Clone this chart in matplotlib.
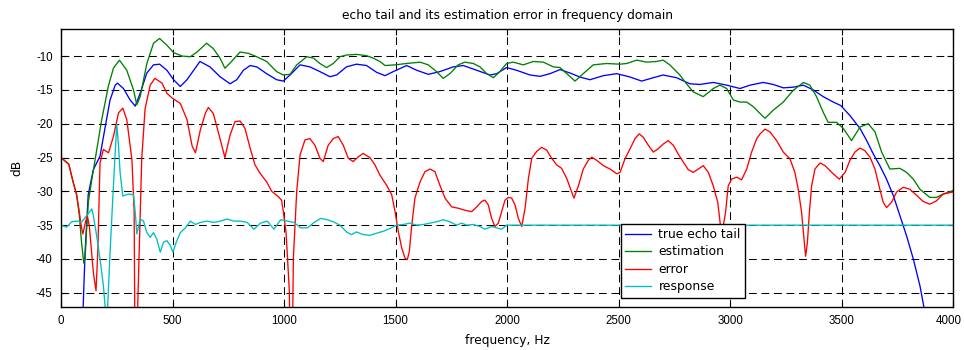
import matplotlib
matplotlib.use("Agg")
import matplotlib.pyplot as plt
import matplotlib.transforms as mtransforms

# ---------------- data ----------------
true_f = [92, 100, 108, 122, 145, 175, 197, 220, 243, 253, 280, 310, 333, 355, 385, 415, 442,
          475, 505, 535, 565, 623, 668, 713, 758, 788, 818, 848, 878, 922, 967, 997, 1027,
          1072, 1116, 1161, 1206, 1236, 1280, 1325, 1370, 1415, 1453, 1490, 1550, 1595, 1647,
          1699, 1759, 1804, 1864, 1924, 1954, 1998, 2043, 2103, 2148, 2193, 2238, 2282, 2327,
          2372, 2432, 2492, 2552, 2604, 2656, 2700, 2760, 2820, 2865, 2925, 2985, 3045, 3090,
          3149, 3194, 3239, 3284, 3329, 3373, 3418, 3463, 3496, 3538, 3583, 3613, 3643, 3672,
          3702, 3732, 3762, 3792, 3822, 3852, 3870, 3885]
true_db = [-55, -46.5, -39.0, -30.5, -26.8, -24.8, -20.7, -16.5, -14.3, -14.0, -14.8, -16.5, -17.4,
           -15.5, -12.5, -11.3, -11.2, -12.1, -13.5, -14.5, -13.5, -10.8, -11.6, -13.05, -14.1,
           -13.5, -12.1, -11.4, -11.6, -12.6, -13.5, -13.7, -12.8, -11.3, -11.6, -12.3, -13.05,
           -12.8, -11.6, -11.2, -11.4, -12.4, -12.9, -12.3, -11.4, -12.1, -12.7, -12.3, -11.6,
           -11.4, -12.1, -12.8, -12.6, -11.7, -12.1, -12.8, -13.0, -12.6, -12.0, -12.5, -13.1,
           -13.5, -12.9, -12.6, -13.1, -13.7, -13.2, -12.8, -13.2, -14.1, -14.2, -13.9, -14.3,
           -14.8, -14.3, -13.9, -14.2, -14.7, -14.6, -14.3, -15.0, -16.0, -16.8, -17.3, -18.8,
           -20.7, -22.5, -24.5, -26.2, -28.2, -30.6, -33.6, -36.6, -40.0, -44.0, -47.2, -52]

est_f = [0, 35, 55, 70, 82, 92, 102, 108, 115, 123, 137, 153, 167, 182, 197, 212, 235, 262, 295,
         325, 340, 355, 385, 415, 442, 475, 505, 543, 580, 610, 653, 683, 713, 735, 765, 803, 840,
         878, 922, 967, 997, 1027, 1057, 1102, 1132, 1161, 1191, 1221, 1251, 1280, 1325, 1370,
         1400, 1430, 1453, 1498, 1550, 1610, 1647, 1684, 1714, 1744, 1781, 1811, 1849, 1879, 1909,
         1939, 1968, 1998, 2028, 2073, 2118, 2163, 2208, 2238, 2268, 2305, 2342, 2387, 2447, 2507,
         2537, 2582, 2626, 2671, 2700, 2730, 2775, 2805, 2835, 2880, 2925, 2955, 2985, 3015, 3045,
         3075, 3105, 3135, 3157, 3194, 3239, 3284, 3329, 3358, 3388, 3418, 3440, 3478, 3508, 3545,
         3583, 3620, 3650, 3680, 3717, 3762, 3792, 3822, 3852, 3896, 3926, 3956, 4000]
est_db = [-25.0, -26.0, -28.7, -30.5, -33.5, -37.5, -40.6, -40.0, -35.5, -31.5, -28.5, -25.3, -22.5,
          -19.5, -17.0, -14.5, -11.8, -10.6, -12.1, -15.0, -17.2, -16.0, -11.1, -8.1, -7.4, -8.4,
          -9.5, -10.0, -10.1, -9.4, -8.1, -8.9, -10.3, -11.8, -10.8, -9.4, -9.6, -10.1, -10.8,
          -12.3, -12.8, -12.7, -11.3, -10.1, -10.3, -11.1, -11.7, -11.1, -10.1, -9.85, -9.75,
          -9.95, -10.3, -10.8, -11.4, -11.3, -11.1, -10.9, -11.3, -12.3, -13.3, -12.6, -11.3,
          -10.9, -11.1, -11.6, -12.6, -13.2, -12.3, -11.1, -10.9, -11.3, -10.8, -10.9, -11.6,
          -11.7, -12.6, -13.7, -12.6, -11.3, -11.1, -11.2, -11.1, -10.6, -10.9, -10.8, -10.6,
          -11.3, -12.8, -14.1, -15.3, -16.0, -14.8, -14.3, -14.8, -16.5, -16.8, -16.8, -17.5,
          -18.5, -19.2, -18.0, -16.8, -15.05, -13.9, -14.3, -16.0, -18.3, -19.8, -19.8, -20.7,
          -22.5, -20.5, -20.0, -21.2, -24.2, -26.7, -26.6, -27.2, -28.2, -29.7, -30.9, -30.9,
          -30.4, -29.9]

err_f = [0, 35, 55, 70, 82, 90, 98, 110, 118, 127, 145, 157, 165, 175, 190, 213, 235, 258, 277, 295,
         318, 328, 333, 340, 344, 354, 362, 377, 400, 421, 430, 453, 475, 498, 535, 565, 588, 603,
         625, 648, 661, 683, 705, 735, 758, 780, 803, 825, 848, 870, 892, 922, 945, 975, 989, 997,
         1009, 1015, 1024, 1029, 1035, 1042, 1057, 1072, 1094, 1116, 1139, 1161, 1176, 1198, 1221,
         1243, 1266, 1288, 1310, 1333, 1355, 1385, 1408, 1430, 1460, 1483, 1498, 1513, 1528, 1543,
         1553, 1562, 1573, 1587, 1610, 1632, 1655, 1677, 1699, 1722, 1752, 1782, 1812, 1842, 1864,
         1886, 1901, 1916, 1931, 1946, 1961, 1976, 1991, 2006, 2021, 2036, 2051, 2066, 2081, 2096,
         2111, 2133, 2155, 2178, 2200, 2223, 2245, 2268, 2300, 2320, 2342, 2365, 2380, 2402, 2432,
         2462, 2492, 2507, 2529, 2552, 2574, 2593, 2611, 2634, 2656, 2678, 2701, 2723, 2746, 2768,
         2791, 2813, 2835, 2858, 2880, 2903, 2925, 2945, 2958, 2968, 2980, 2992, 3007, 3030, 3052,
         3075, 3097, 3120, 3135, 3157, 3179, 3209, 3239, 3269, 3291, 3306, 3321, 3332, 3339, 3347,
         3356, 3366, 3381, 3404, 3426, 3456, 3490, 3516, 3538, 3560, 3583, 3605, 3628, 3650, 3672,
         3687, 3702, 3725, 3747, 3777, 3807, 3837, 3866, 3896, 3926, 3956, 4000]
err_db = [-25.0, -26.0, -28.7, -30.5, -33.0, -35.0, -36.3, -34.5, -33.6, -35.1, -42.0, -44.7, -39.0,
          -25.8, -23.8, -24.3, -21.9, -18.4, -17.7, -19.4, -25.3, -33.0, -60, -60, -47, -35.1,
          -25.2, -17.8, -14.3, -13.3, -13.5, -14.0, -15.5, -16.2, -17.0, -19.4, -23.3, -24.3,
          -20.9, -18.4, -17.6, -18.5, -21.2, -25.0, -21.7, -19.7, -19.6, -20.7, -23.6, -26.1,
          -27.3, -28.6, -30.0, -30.8, -31.3, -33.0, -36.0, -39.4, -44.8, -60, -60, -39.9, -30.0,
          -24.6, -22.4, -22.2, -23.2, -25.1, -25.6, -23.2, -22.2, -21.9, -23.2, -25.1, -25.6,
          -24.9, -24.4, -25.0, -26.1, -27.6, -29.1, -30.5, -33.0, -36.0, -38.4, -39.9, -40.1,
          -38.9, -35.0, -31.0, -28.6, -27.1, -26.7, -27.1, -29.1, -31.0, -32.3, -32.5, -32.8,
          -33.0, -32.3, -31.5, -31.3, -32.0, -34.0, -35.2, -34.7, -33.0, -31.3, -30.9, -31.0,
          -32.0, -34.0, -35.2, -32.5, -28.1, -25.1, -24.1, -23.5, -23.9, -25.1, -26.1, -26.6,
          -28.1, -31.0, -29.2, -26.7, -25.4, -24.95, -25.4, -26.2, -26.7, -27.4, -27.2, -25.2,
          -23.7, -22.2, -21.5, -22.0, -23.2, -24.2, -23.7, -23.0, -22.5, -23.2, -24.5, -25.7,
          -26.8, -27.2, -26.7, -26.2, -27.2, -29.2, -31.6, -35.3, -35.5, -33.1, -29.2, -28.2,
          -27.9, -28.3, -26.7, -24.2, -22.2, -21.5, -20.8, -21.2, -22.5, -24.2, -25.2, -27.2,
          -29.7, -33.1, -37.1, -39.6, -37.6, -33.1, -29.2, -26.7, -25.8, -26.2, -27.2, -28.2,
          -27.2, -25.4, -24.2, -23.6, -24.0, -24.95, -26.7, -29.7, -31.6, -32.4, -31.6, -30.1,
          -29.4, -29.7, -30.6, -31.5, -31.9, -31.4, -30.4, -30.1]

resp_f = [0, 25, 48, 70, 93, 115, 138, 145, 160, 175, 190, 200, 208, 220, 235, 250, 258, 265, 277,
          303, 325, 333, 340, 355, 370, 385, 400, 415, 430, 445, 460, 475, 490, 502, 517, 535, 558,
          580, 603, 625, 655, 685, 715, 745, 775, 805, 835, 865, 895, 925, 955, 985, 1015, 1045,
          1075, 1105, 1135, 1165, 1195, 1221, 1251, 1280, 1303, 1325, 1355, 1385, 1415, 1445, 1475,
          1505, 1535, 1565, 1595, 1625, 1655, 1684, 1714, 1744, 1774, 1797, 1819, 1849, 1879,
          1901, 1931, 1954, 1976, 1998, 4000]
resp_db = [-35.0, -35.3, -34.5, -34.4, -34.5, -33.6, -32.6, -33.6, -36.6, -40.0, -43.9, -48, -48,
           -39.0, -29.2, -20.1, -23.3, -27.2, -30.7, -30.4, -30.5, -33.1, -36.3, -34.1, -34.4,
           -36.1, -36.8, -36.1, -37.1, -39.0, -37.5, -37.3, -38.0, -39.0, -37.5, -36.1, -35.4,
           -34.4, -34.9, -34.6, -34.4, -34.6, -34.4, -34.1, -34.4, -34.4, -34.6, -35.6, -34.7,
           -34.4, -35.6, -34.2, -34.4, -34.6, -35.4, -35.4, -34.6, -34.0, -34.2, -34.5, -35.0,
           -36.0, -36.4, -36.0, -36.4, -36.5, -36.2, -35.9, -35.5, -35.0, -34.9, -34.7, -35.0,
           -34.9, -34.7, -34.5, -34.2, -34.5, -35.0, -34.7, -35.0, -34.9, -35.2, -35.6, -35.2,
           -35.4, -35.6, -35.0, -35.0]

labels = ["true echo tail", "estimation", "error", "response"]
x_ticks = [0, 500, 1000, 1500, 2000, 2500, 3000, 3500, 4000]
y_ticks = [-45, -40, -35, -30, -25, -20, -15, -10]

# ---------------- figure ----------------
plt.rcParams["font.family"] = ["Liberation Sans", "DejaVu Sans"]
WIDE = ["DejaVu Sans"]

fig = plt.figure(figsize=(9.64, 3.50), dpi=100)
ax = fig.add_axes([61 / 964, 43 / 350, 892 / 964, 278 / 350])

lw = 0.95
ax.plot(true_f, true_db, color="#0000ff", lw=lw, label=labels[0])
ax.plot(est_f, est_db, color="#008000", lw=lw, label=labels[1])
ax.plot(err_f, err_db, color="#ff0000", lw=lw, label=labels[2])
ax.plot(resp_f, resp_db, color="#00bfbf", lw=lw, label=labels[3])

ax.set_xticks(x_ticks)
ax.set_yticks(y_ticks)
ax.set_xticklabels([str(t) for t in x_ticks])
ax.set_yticklabels([str(t) for t in y_ticks])
ax.set_xlim(0, 4000)
ax.set_ylim(-47.1, -6.0)

ax.grid(True, color="black", linewidth=0.75, linestyle=(0, (7.5, 4.5)))
ax.set_axisbelow(True)
ax.tick_params(direction="in", top=True, right=True, length=4, width=0.8,
               labelsize=8.3, pad=6, colors="black")
for s in ax.spines.values():
    s.set_linewidth(1.0)
    s.set_color("black")

# nudge the last x tick label a few pixels left so it stays on the canvas
last = ax.xaxis.get_major_ticks()[-1].label1
last.set_transform(last.get_transform()
                   + mtransforms.ScaledTranslation(-4 / 100, 0, fig.dpi_scale_trans))

ax.set_title("echo tail and its estimation error in frequency domain", fontsize=8.8,
             family=WIDE, pad=7)
ax.set_xlabel("frequency, Hz", fontsize=8.8, family=WIDE, labelpad=5)
ax.set_ylabel("dB", fontsize=8.8, family=WIDE, labelpad=9)

leg = ax.legend(loc="lower left", bbox_to_anchor=(0.6275, 0.0335), borderaxespad=0,
                prop={"family": WIDE, "size": 8.9}, frameon=True, fancybox=False,
                framealpha=1, edgecolor="black", handlelength=2.1, handletextpad=0.6,
                labelspacing=0.36, borderpad=0.35)
leg.get_frame().set_linewidth(1.0)

fig.savefig("out.png", dpi=100)
